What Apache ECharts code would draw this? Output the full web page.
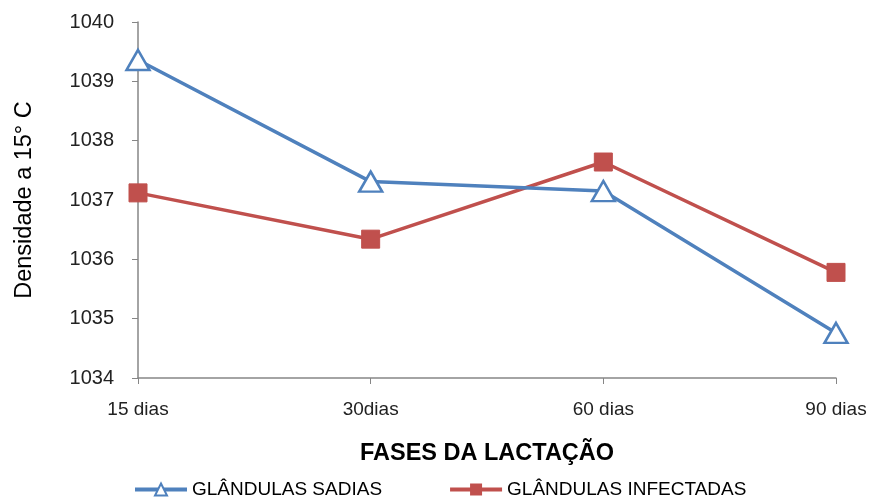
<!DOCTYPE html>
<html>
<head>
<meta charset="utf-8">
<script src="https://cdn.jsdelivr.net/npm/echarts@6/dist/echarts.min.js"></script>
<style>
  html, body { margin: 0; padding: 0; background: #fff; }
  #chart { width: 870px; height: 501px; }
</style>
</head>
<body>
<div id="chart"></div>
<script>
// fases da lactação
var fases = ['15 dias', '30dias', '60 dias', '90 dias'];
// densidade a 15° C
var sadias = [1039.36, 1037.31, 1037.15, 1034.76];
var infectadas = [1037.12, 1036.34, 1037.64, 1035.78];

var fonte = "'Liberation Sans', sans-serif";

window.onload = function(){
    var myChart = echarts.init(document.getElementById('chart'));

    var option = {
        animation: false,
        textStyle: { fontFamily: fonte },
        grid: {
            left: 138,
            right: 34,
            top: 22,
            bottom: 123
        },
        legend: {
            bottom: -3,
            left: 128,
            itemGap: 66,
            itemWidth: 52,
            itemHeight: 15,
            lineStyle: { width: 4 },
            textStyle: { fontSize: 19, color: '#000', fontFamily: fonte },
            data: ['GLÂNDULAS SADIAS', 'GLÂNDULAS INFECTADAS']
        },
        xAxis: {
            type: 'category',
            data: fases,
            boundaryGap: false,
            name: 'FASES DA LACTAÇÃO',
            nameLocation: 'middle',
            nameGap: 64,
            nameTextStyle: { fontSize: 23.5, fontWeight: 'bold', color: '#000' },
            axisLine: { lineStyle: { color: '#868686', width: 1.5 } },
            axisTick: { alignWithLabel: true, length: 6, lineStyle: { color: '#868686' } },
            axisLabel: { fontSize: 19, color: '#222', margin: 22 },
            splitLine: { show: false }
        },
        yAxis: {
            type: 'value',
            min: 1034,
            max: 1040,
            interval: 1,
            name: 'Densidade a 15° C',
            nameLocation: 'middle',
            nameGap: 101,
            nameTextStyle: { fontSize: 23.5, color: '#000' },
            axisLine: { show: true, lineStyle: { color: '#868686', width: 1.5 } },
            axisTick: { show: true, length: 6, lineStyle: { color: '#868686' } },
            axisLabel: {
                fontSize: 20, color: '#222', margin: 24,
                formatter: function(v){ return String(v); }
            },
            splitLine: { show: false }
        },
        series: [
            {
                name: 'GLÂNDULAS SADIAS',
                type: 'line',
                data: sadias,
                symbol: 'triangle',
                symbolSize: [23, 20],
                lineStyle: { color: '#4F81BD', width: 3.5 },
                itemStyle: { color: '#fff', borderColor: '#4F81BD', borderWidth: 2.5 },
                z: 3
            },
            {
                name: 'GLÂNDULAS INFECTADAS',
                type: 'line',
                data: infectadas,
                symbol: 'rect',
                symbolSize: 18,
                lineStyle: { color: '#C0504D', width: 3.5 },
                itemStyle: { color: '#C0504D', borderColor: '#C0504D' },
                z: 2
            }
        ]
    };

    myChart.setOption(option);
}
</script>
</body>
</html>
